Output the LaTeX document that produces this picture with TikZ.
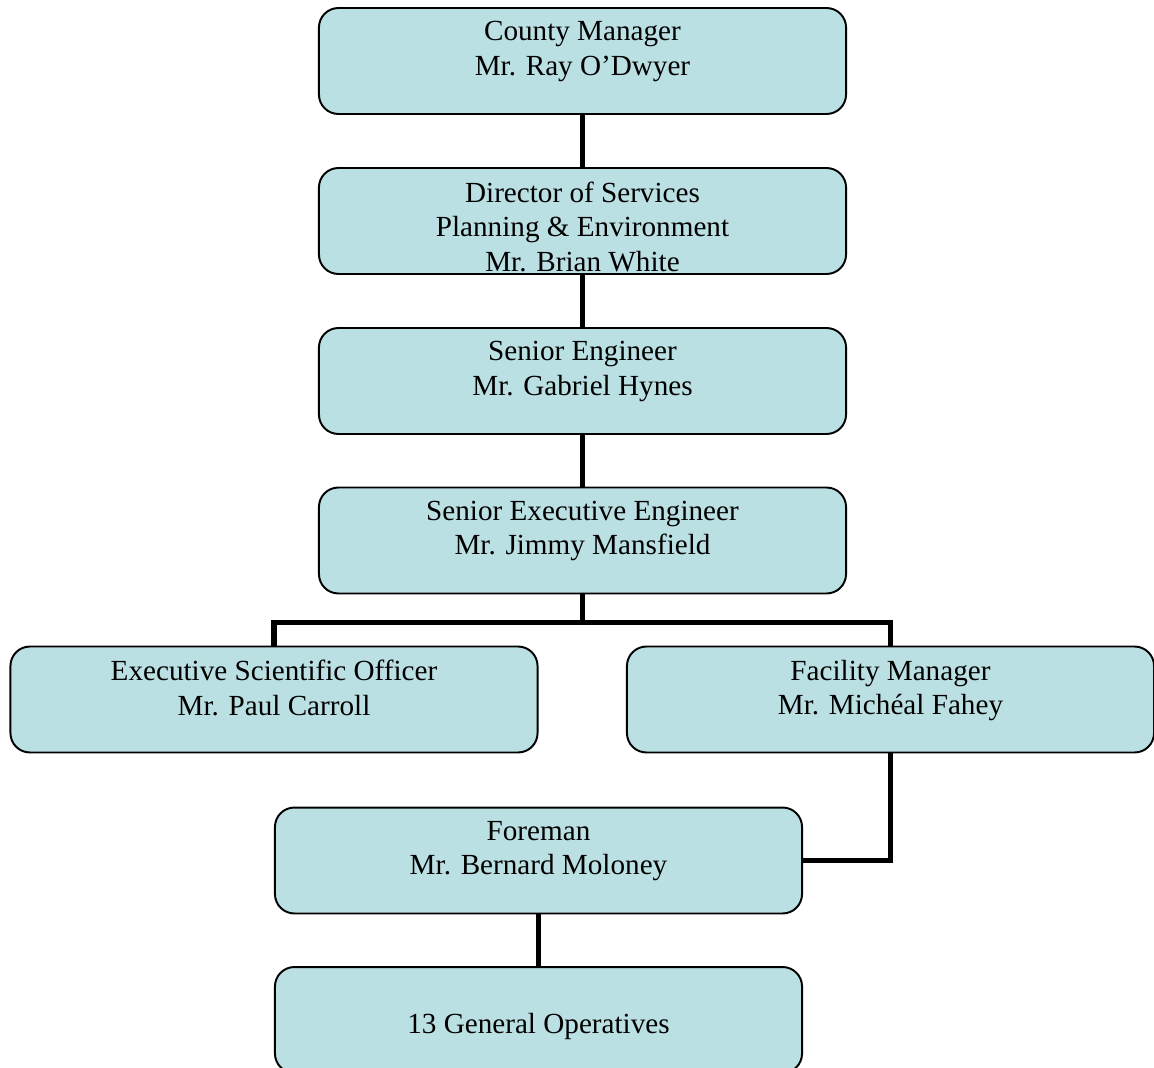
\documentclass[tikz,border=0pt]{standalone}
\usepackage{fontspec}
\setmainfont{Liberation Serif}
\usepackage{tikz}
\usetikzlibrary{positioning}
\definecolor{boxblue}{RGB}{187,224,227}

\begin{document}
\begin{tikzpicture}[x=0.4115pt, y=-0.4115pt,
  post/.style={draw=black, line width=0.8pt, fill=boxblue, rounded corners=8pt,
    minimum width=216.9pt, minimum height=43.6pt, inner sep=0pt},
  title/.style={align=center, inner sep=0pt, font=\fontsize{12}{14.2}\selectfont},
  link/.style={line width=2.2pt}]
\useasboundingbox (0,0) rectangle (1154,1068);

\node [post] (cm) at (582.5, 61) {};
\node [title, below=5.8pt of cm.north] (cmt) {County Manager\\Mr. Ray O’Dwyer};

\node [post] (ds) at (582.5, 221) {};
\node [title, below=5.8pt of ds.north] (dst) {Director of Services\\Planning \& Environment\\Mr. Brian White};

\node [post] (se) at (582.5, 381) {};
\node [title, below=5.8pt of se.north] (set) {Senior Engineer\\Mr. Gabriel Hynes};

\node [post] (see) at (582.5, 540.5) {};
\node [title, below=5.8pt of see.north] (seet) {Senior Executive Engineer\\Mr. Jimmy Mansfield};

\node [post] (eso) at (274, 699.5) {};
\node [title, below=5.8pt of eso.north] (esot) {Executive Scientific Officer\\Mr. Paul Carroll};

\node [post] (fm) at (890.5, 699.5) {};
\node [title, below=5.8pt of fm.north] (fmt) {Facility Manager\\Mr. Michéal Fahey};

\node [post] (fo) at (538.5, 860.5) {};
\node [title, below=5.8pt of fo.north] (fot) {Foreman\\Mr. Bernard Moloney};

\node [post] (go) at (538.5, 1020) {};
\node [title, below=19.4pt of go.north] (got) {13 General Operatives};

\draw [link] (cm.south) -- (ds.north);
\draw [link] (ds.south) -- (se.north);
\draw [link] (se.south) -- (see.north);
\draw [link] (see.south) -- ++(0,28) -| (eso.north);
\draw [link] (see.south) -- ++(0,28) -| (fm.north);
\draw [link] (fm.south) |- (fo.east);
\draw [link] (fo.south) -- (go.north);
\end{tikzpicture}
\end{document}
